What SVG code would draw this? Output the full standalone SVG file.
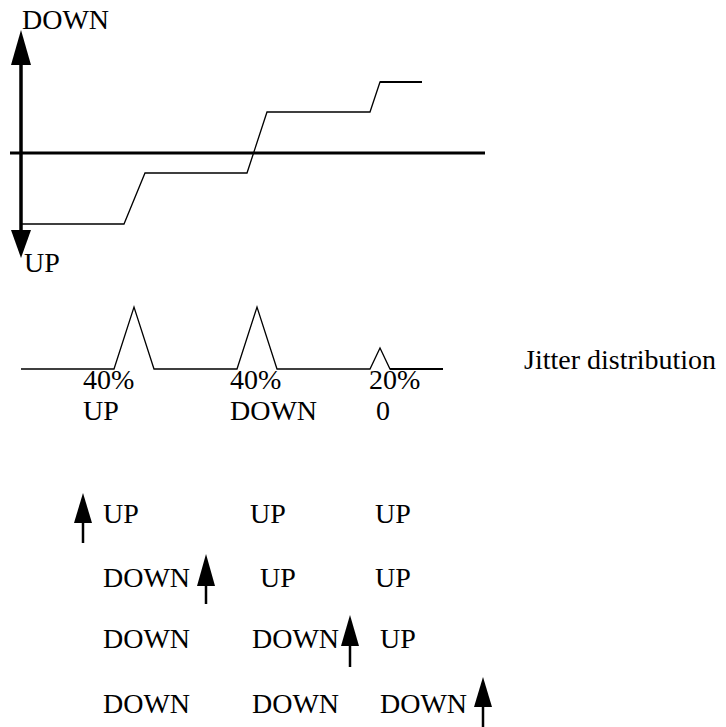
<svg xmlns="http://www.w3.org/2000/svg" width="726" height="727" viewBox="0 0 726 727">
<style>
text{font-family:"Liberation Serif","Times New Roman",serif;font-size:28px;fill:#000}
.thin{fill:none;stroke:#000;stroke-width:1.3}
.axis{fill:none;stroke:#000;stroke-width:3.5}
.head{fill:#000}
.sh{stroke:#000;stroke-width:2.5}
</style>
<rect width="726" height="727" fill="#fff"/>
<g id="chart">
<line class="axis" x1="21" y1="60" x2="21" y2="234"/>
<polygon class="head" points="21,30 11,65 31,65"/>
<polygon class="head" points="21,258 11,230 31,230"/>
<line class="axis" x1="10" y1="153" x2="485" y2="153" style="stroke-width:3"/>
<polyline class="thin" points="21,224 124,224 145,173 247,173 267,112 370,112 380,82 422,82"/>
<line stroke="#000" stroke-width="2" x1="380" y1="82" x2="422" y2="82"/>
<text x="22" y="29">DOWN</text>
<text x="24" y="272">UP</text>
</g>
<g id="distribution">
<polyline class="thin" points="21,369 114,369 134,307 154,369 237,369 257,307 277,369 370,369 380,348 390,369 443,369"/>
<line stroke="#000" stroke-width="2" x1="390" y1="369" x2="443" y2="369"/>
<text x="83" y="389">40%</text>
<text x="83" y="420">UP</text>
<text x="230" y="389">40%</text>
<text x="230" y="420">DOWN</text>
<text x="369" y="389">20%</text>
<text x="376" y="420">0</text>
<text x="524" y="369">Jitter distribution</text>
</g>
<g id="grid">
<text x="103" y="523">UP</text>
<text x="250" y="523">UP</text>
<text x="375" y="523">UP</text>
<text x="103" y="587">DOWN</text>
<text x="260" y="587">UP</text>
<text x="375" y="587">UP</text>
<text x="103" y="648">DOWN</text>
<text x="252" y="648">DOWN</text>
<text x="380" y="648">UP</text>
<text x="103" y="713">DOWN</text>
<text x="252" y="713">DOWN</text>
<text x="380" y="713">DOWN</text>
</g>
<g id="connectors">
<line class="sh" x1="83" y1="520" x2="83" y2="543"/>
<polygon class="head" points="83,493 74,523 92,523"/>
<line class="sh" x1="206" y1="583" x2="206" y2="604"/>
<polygon class="head" points="206,554 197,586 215,586"/>
<line class="sh" x1="350" y1="643" x2="350" y2="667"/>
<polygon class="head" points="350,615 341,646 359,646"/>
<line class="sh" x1="483" y1="704" x2="483" y2="727"/>
<polygon class="head" points="483,677 474,707 492,707"/>
</g>
</svg>
